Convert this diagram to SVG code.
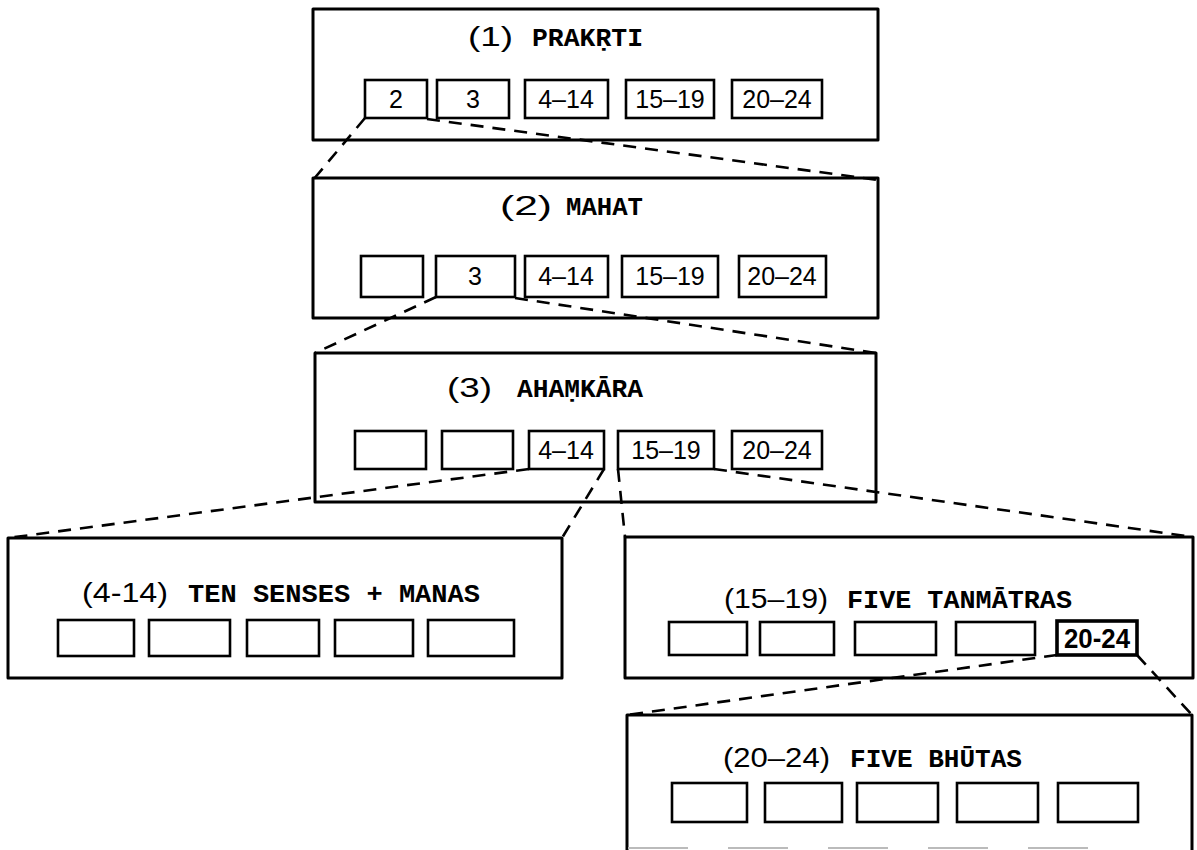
<svg xmlns="http://www.w3.org/2000/svg" width="1197" height="850" viewBox="0 0 1197 850">
<style>
.frame{fill:none;stroke:#000;stroke-width:3;stroke-linejoin:round}
.cell{fill:none;stroke:#000;stroke-width:2.6}
.cellb{fill:none;stroke:#000;stroke-width:3.6}
.dash{fill:none;stroke:#000;stroke-width:2.6;stroke-dasharray:13 9}
.faint{fill:none;stroke:#bbb;stroke-width:2;stroke-dasharray:60 40}
.num{font-family:"Liberation Sans","DejaVu Sans",sans-serif;font-size:27px;fill:#000}
.lab{font-family:"Liberation Sans","DejaVu Sans",sans-serif;font-size:25px;fill:#000;text-anchor:middle}
.labb{font-family:"Liberation Sans","DejaVu Sans",sans-serif;font-size:27px;font-weight:bold;fill:#000;text-anchor:middle}
.word{font-family:"Liberation Mono","DejaVu Sans Mono",monospace;font-size:26px;font-weight:bold;fill:#000}
</style>
<rect width="1197" height="850" fill="#fff"/>

<g id="connectors">
<line class="dash" x1="365" y1="118" x2="313" y2="180"/>
<line class="dash" x1="427" y1="119" x2="878" y2="180"/>
<line class="dash" x1="436" y1="297" x2="315" y2="353"/>
<line class="dash" x1="515" y1="298" x2="876" y2="353"/>
<line class="dash" x1="529" y1="469" x2="8" y2="538"/>
<line class="dash" x1="604" y1="469" x2="562" y2="538"/>
<line class="dash" x1="618" y1="469" x2="625" y2="537"/>
<line class="dash" x1="714" y1="469" x2="1193" y2="537"/>
<line class="dash" x1="1057" y1="655" x2="627" y2="715"/>
<line class="dash" x1="1137" y1="655" x2="1192" y2="715"/>
</g>

<g id="prakrti">
<rect class="frame" x="313" y="9" width="565" height="131"/>
<text class="num" x="468" y="46" textLength="45" lengthAdjust="spacingAndGlyphs">(1)</text>
<text class="word" x="532" y="46" textLength="111" lengthAdjust="spacingAndGlyphs">PRAKṚTI</text>
<rect class="cell" x="365" y="80" width="62" height="38"/>
<rect class="cell" x="437" y="80" width="72" height="38"/>
<rect class="cell" x="525" y="80" width="83" height="38"/>
<rect class="cell" x="626" y="80" width="88" height="38"/>
<rect class="cell" x="732" y="80" width="90" height="38"/>
<text class="lab" x="396" y="108">2</text>
<text class="lab" x="473" y="108">3</text>
<text class="lab" x="566" y="108">4–14</text>
<text class="lab" x="670" y="108">15–19</text>
<text class="lab" x="777" y="108">20–24</text>
</g>

<g id="mahat">
<rect class="frame" x="313" y="178" width="565" height="140"/>
<text class="num" x="500" y="215" textLength="52" lengthAdjust="spacingAndGlyphs">(2)</text>
<text class="word" x="566" y="215" textLength="77" lengthAdjust="spacingAndGlyphs">MAHAT</text>
<rect class="cell" x="361" y="256" width="62" height="41"/>
<rect class="cell" x="436" y="256" width="79" height="41"/>
<rect class="cell" x="525" y="256" width="83" height="41"/>
<rect class="cell" x="622" y="256" width="96" height="41"/>
<rect class="cell" x="739" y="256" width="87" height="41"/>
<text class="lab" x="475" y="285">3</text>
<text class="lab" x="566" y="285">4–14</text>
<text class="lab" x="670" y="285">15–19</text>
<text class="lab" x="782" y="285">20–24</text>
</g>

<g id="ahamkara">
<rect class="frame" x="315" y="353" width="561" height="149"/>
<text class="num" x="447" y="397" textLength="45" lengthAdjust="spacingAndGlyphs">(3)</text>
<text class="word" x="517" y="397" textLength="126" lengthAdjust="spacingAndGlyphs">AHAṂKĀRA</text>
<rect class="cell" x="355" y="431" width="71" height="38"/>
<rect class="cell" x="442" y="431" width="71" height="38"/>
<rect class="cell" x="529" y="431" width="75" height="38"/>
<rect class="cell" x="618" y="431" width="96" height="38"/>
<rect class="cell" x="732" y="431" width="90" height="38"/>
<text class="lab" x="566" y="459">4–14</text>
<text class="lab" x="666" y="459">15–19</text>
<text class="lab" x="777" y="459">20–24</text>
</g>

<g id="senses">
<rect class="frame" x="8" y="538" width="554" height="140"/>
<text class="num" x="82" y="602" textLength="86" lengthAdjust="spacingAndGlyphs">(4-14)</text>
<text class="word" x="188" y="602" textLength="292" lengthAdjust="spacingAndGlyphs">TEN SENSES + MANAS</text>
<rect class="cell" x="58" y="620" width="76" height="36"/>
<rect class="cell" x="149" y="620" width="81" height="36"/>
<rect class="cell" x="247" y="620" width="72" height="36"/>
<rect class="cell" x="335" y="620" width="78" height="36"/>
<rect class="cell" x="428" y="620" width="86" height="36"/>
</g>

<g id="tanmatras">
<rect class="frame" x="625" y="537" width="568" height="141"/>
<text class="num" x="724" y="608" textLength="104" lengthAdjust="spacingAndGlyphs">(15–19)</text>
<text class="word" x="847" y="608" textLength="225" lengthAdjust="spacingAndGlyphs">FIVE TANMĀTRAS</text>
<rect class="cell" x="669" y="622" width="78" height="33"/>
<rect class="cell" x="760" y="622" width="74" height="33"/>
<rect class="cell" x="855" y="622" width="81" height="33"/>
<rect class="cell" x="956" y="622" width="79" height="33"/>
<rect class="cellb" x="1057" y="621" width="80" height="34"/>
<text class="labb" x="1097" y="648" textLength="66" lengthAdjust="spacingAndGlyphs">20-24</text>
</g>

<g id="bhutas">
<path class="frame" d="M627,850 V715 H1192 V850"/>
<line class="faint" x1="628" y1="848" x2="1110" y2="848"/>
<text class="num" x="723" y="767" textLength="107" lengthAdjust="spacingAndGlyphs">(20–24)</text>
<text class="word" x="850" y="767" textLength="172" lengthAdjust="spacingAndGlyphs">FIVE BHŪTAS</text>
<rect class="cell" x="672" y="783" width="75" height="39"/>
<rect class="cell" x="765" y="783" width="77" height="39"/>
<rect class="cell" x="857" y="783" width="81" height="39"/>
<rect class="cell" x="957" y="783" width="81" height="39"/>
<rect class="cell" x="1058" y="783" width="80" height="39"/>
</g>
</svg>
